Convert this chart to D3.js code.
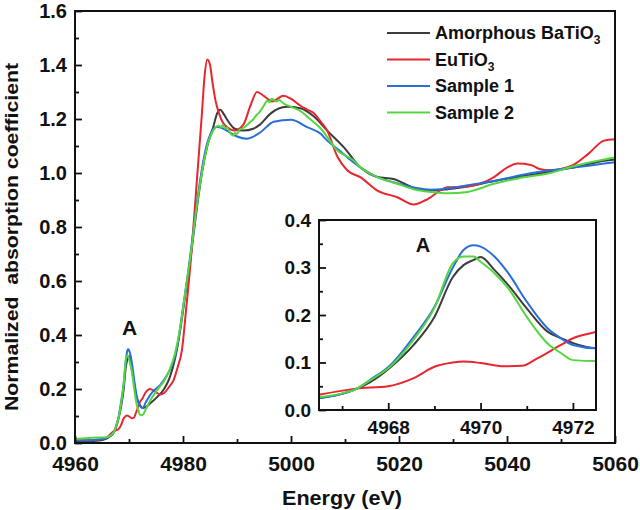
<!DOCTYPE html>
<html><head><meta charset="utf-8">
<script src="https://cdn.jsdelivr.net/npm/d3@7"></script>
<style>
body{margin:0;background:#fff}
text{font-family:"Liberation Sans",Arial,Helvetica,sans-serif;font-weight:bold;fill:#111}
</style>
</head><body>
<svg id="c" width="640" height="510"></svg>
<script>
// ---------------- data ----------------
const seriesNames = ["Amorphous BaTiO", "EuTiO", "Sample 1", "Sample 2"];
const seriesSubs = ["3", "3", "", ""];
const seriesColors = ["#3c3c3c", "#e8262e", "#2a6fd9", "#55d63f"];

const amorphous = [[4960,0.005],[4962,0.006],[4964,0.008],[4965,0.011],[4966,0.018],[4966.5,0.025],[4967,0.034],[4967.3,0.044],[4967.6,0.058],[4968.05,0.09],[4968.55,0.137],[4969,0.196],[4969.4,0.28],[4969.63,0.305],[4969.85,0.316],[4970,0.322],[4970.3,0.295],[4970.6,0.263],[4971,0.214],[4971.45,0.165],[4971.74,0.151],[4972,0.141],[4972.5,0.13],[4973,0.132],[4974,0.148],[4975.2,0.17],[4976.5,0.2],[4977.5,0.24],[4978.5,0.31],[4979.5,0.42],[4980.5,0.56],[4981.5,0.7],[4982.5,0.86],[4983.5,1.0],[4984.5,1.1],[4985.6,1.17],[4986.3,1.22],[4986.9,1.234],[4987.5,1.22],[4988.1,1.2],[4989.6,1.164],[4991.2,1.157],[4993,1.164],[4994.3,1.18],[4996.2,1.22],[4999.2,1.245],[5001.7,1.24],[5004.2,1.21],[5006.7,1.157],[5009.8,1.095],[5012.9,1.02],[5016,0.985],[5019,0.978],[5020.5,0.965],[5022.7,0.945],[5026,0.935],[5029,0.94],[5032.7,0.95],[5037.6,0.97],[5042,0.985],[5048,1.005],[5052.3,1.02],[5058,1.045],[5060,1.05]];

const eutio3 = [[4960,0.01],[4962,0.01],[4964,0.012],[4965,0.015],[4966,0.022],[4966.5,0.032],[4967.3,0.045],[4968,0.05],[4968.55,0.067],[4969,0.091],[4969.4,0.1],[4969.63,0.102],[4970,0.099],[4970.5,0.092],[4970.9,0.093],[4971.2,0.107],[4971.74,0.137],[4972,0.151],[4972.5,0.165],[4973,0.185],[4973.9,0.2],[4974.8,0.19],[4975.8,0.18],[4976.5,0.185],[4977.5,0.21],[4978.2,0.23],[4979,0.28],[4979.8,0.344],[4980.6,0.5],[4981.5,0.69],[4982.6,0.98],[4983.5,1.22],[4984,1.36],[4984.5,1.42],[4985,1.4],[4985.5,1.33],[4986,1.27],[4986.6,1.225],[4987.3,1.19],[4988.1,1.17],[4989.6,1.157],[4991.2,1.18],[4992.5,1.25],[4993.7,1.3],[4995,1.285],[4996.5,1.265],[4998.6,1.286],[5000,1.275],[5001.7,1.25],[5003,1.235],[5004.2,1.222],[5005.5,1.19],[5006.7,1.157],[5008.6,1.06],[5010.4,1.01],[5012.9,0.984],[5016,0.935],[5019.7,0.91],[5022.7,0.883],[5025,0.9],[5029,0.947],[5032.7,0.95],[5035,0.96],[5037.6,0.985],[5040,1.02],[5042,1.035],[5044.4,1.03],[5046,1.015],[5048,1.01],[5050,1.015],[5052.3,1.03],[5055,1.07],[5058,1.12],[5060,1.125]];

const sample1 = [[4960,0.01],[4962,0.01],[4964,0.012],[4965,0.015],[4966,0.02],[4966.5,0.025],[4967,0.034],[4967.3,0.044],[4967.6,0.063],[4968.05,0.095],[4968.55,0.154],[4969,0.217],[4969.4,0.3],[4969.63,0.337],[4969.85,0.347],[4970,0.344],[4970.3,0.323],[4970.6,0.288],[4971,0.228],[4971.45,0.172],[4971.74,0.151],[4972,0.137],[4972.5,0.13],[4973.2,0.155],[4974.4,0.19],[4975.8,0.215],[4977,0.25],[4977.8,0.28],[4978.8,0.344],[4980,0.5],[4981,0.64],[4982,0.8],[4983,0.95],[4984,1.07],[4985,1.14],[4986.2,1.17],[4987,1.168],[4988.1,1.157],[4990,1.135],[4991.8,1.127],[4994.3,1.15],[4996.8,1.19],[5000,1.197],[5003,1.17],[5005.5,1.145],[5006.7,1.12],[5009.2,1.08],[5010.4,1.058],[5012.9,1.02],[5016,0.985],[5020,0.96],[5023,0.945],[5026,0.938],[5030,0.945],[5032.7,0.955],[5037.6,0.97],[5042,0.99],[5048,1.01],[5052.3,1.02],[5058,1.035],[5060,1.04]];

const sample2 = [[4960,0.015],[4962,0.018],[4964,0.02],[4965,0.02],[4966,0.022],[4966.5,0.027],[4967,0.035],[4967.3,0.044],[4967.6,0.062],[4968.05,0.092],[4968.55,0.148],[4969,0.215],[4969.4,0.309],[4969.63,0.323],[4969.85,0.323],[4970,0.312],[4970.3,0.288],[4970.6,0.256],[4971,0.196],[4971.45,0.14],[4971.74,0.12],[4972,0.105],[4972.5,0.103],[4973,0.12],[4974,0.16],[4975.2,0.196],[4976.5,0.23],[4977.5,0.27],[4978.5,0.33],[4979.5,0.43],[4980.5,0.57],[4981.5,0.71],[4982.5,0.87],[4983.5,1.0],[4984.5,1.1],[4985.6,1.157],[4986.6,1.175],[4987,1.17],[4987.4,1.178],[4987.8,1.165],[4988.2,1.168],[4988.6,1.152],[4989,1.142],[4989.3,1.138],[4989.6,1.148],[4990,1.145],[4990.5,1.16],[4991,1.165],[4991.5,1.172],[4992,1.18],[4992.5,1.19],[4993,1.198],[4993.5,1.212],[4994,1.222],[4994.5,1.235],[4995,1.25],[4995.6,1.268],[4996,1.262],[4996.4,1.275],[4996.8,1.272],[4997.3,1.265],[4997.8,1.27],[4998.6,1.258],[5000,1.245],[5001.7,1.23],[5003.5,1.2],[5005.5,1.165],[5008.6,1.083],[5011.6,1.046],[5012.9,1.02],[5016,0.985],[5019.7,0.96],[5022.7,0.94],[5025.9,0.93],[5029,0.925],[5032.7,0.93],[5037.6,0.96],[5042,0.98],[5048,1.0],[5052.3,1.025],[5058,1.05],[5060,1.057]];

const mainXTicks = [4960, 4980, 5000, 5020, 5040, 5060];
const mainYTicks = [0, 0.2, 0.4, 0.6, 0.8, 1.0, 1.2, 1.4, 1.6];
const insetXTicks = [4968, 4970, 4972];
const insetYTicks = [0, 0.1, 0.2, 0.3, 0.4];
const xLabel = "Energy (eV)";
const yLabel = "Normalized\u00a0\u00a0absorption coefficient";
const peakLabel = "A";

// ---------------- drawing ----------------
const allSeries = [amorphous, eutio3, sample1, sample2];
const svg = d3.select("#c");

const M = {l: 75, r: 615, t: 11, b: 443};
const x = d3.scaleLinear().domain([4960, 5060]).range([M.l, M.r]);
const y = d3.scaleLinear().domain([0, 1.6]).range([M.b, M.t]);

const I = {l: 319, r: 596, t: 220, b: 410};
const xi = d3.scaleLinear().domain([4966.5, 4972.5]).range([I.l, I.r]);
const yi = d3.scaleLinear().domain([0, 0.4]).range([I.b, I.t]);

const defs = svg.append("defs");
defs.append("clipPath").attr("id", "clipMain").append("rect")
  .attr("x", M.l).attr("y", M.t).attr("width", M.r - M.l).attr("height", M.b - M.t);
defs.append("clipPath").attr("id", "clipInset").append("rect")
  .attr("x", I.l).attr("y", I.t).attr("width", I.r - I.l).attr("height", I.b - I.t);

function drawAxes(g, xs, ys, xt, yt, xMinor, yMinor, xfs, yfs, xpad) {
  const ax = g.append("g").attr("transform", `translate(0,${ys.range()[0]})`)
    .call(d3.axisBottom(xs).tickValues(xt).tickSize(-7).tickPadding(xpad).tickFormat(d3.format("d")));
  const axm = g.append("g").attr("transform", `translate(0,${ys.range()[0]})`)
    .call(d3.axisBottom(xs).tickValues(xMinor).tickSize(-4).tickFormat(""));
  const ay = g.append("g").attr("transform", `translate(${xs.range()[0]},0)`)
    .call(d3.axisLeft(ys).tickValues(yt).tickSize(-7).tickPadding(8).tickFormat(d3.format(".1f")));
  const aym = g.append("g").attr("transform", `translate(${xs.range()[0]},0)`)
    .call(d3.axisLeft(ys).tickValues(yMinor).tickSize(-4).tickFormat(""));
  [ax, axm, ay, aym].forEach(a => {
    a.select(".domain").remove();
    a.selectAll("line").attr("stroke", "#111").attr("stroke-width", 1.8);
    a.selectAll("text").attr("font-weight", "bold")
      .attr("font-family", '"Liberation Sans",Arial,sans-serif').attr("fill", "#111");
  });
  ax.selectAll("text").attr("font-size", xfs).attr("dy", "0.71em");
  ay.selectAll("text").attr("font-size", yfs);
}

function drawLines(g, xs, ys, clip) {
  const line = d3.line().x(d => xs(d[0])).y(d => ys(d[1])).curve(d3.curveMonotoneX);
  const lg = g.append("g").attr("clip-path", `url(#${clip})`);
  allSeries.forEach((s, i) => {
    lg.append("path").datum(s).attr("d", line)
      .attr("fill", "none").attr("stroke", seriesColors[i]).attr("stroke-width", 2)
      .attr("stroke-linejoin", "round");
  });
}

// main plot
const gMain = svg.append("g");
drawLines(gMain, x, y, "clipMain");
drawAxes(gMain, x, y, mainXTicks, mainYTicks,
  [4970, 4990, 5010, 5030, 5050], [0.1, 0.3, 0.5, 0.7, 0.9, 1.1, 1.3, 1.5], 21, 20, 13);
gMain.append("rect").attr("x", M.l).attr("y", M.t).attr("width", M.r - M.l).attr("height", M.b - M.t)
  .attr("fill", "none").attr("stroke", "#111").attr("stroke-width", 2);

// axis labels
svg.append("text").attr("x", (M.l + M.r) / 2 - 3).attr("y", 505).attr("text-anchor", "middle")
  .attr("font-size", 21).attr("textLength", 120).attr("lengthAdjust", "spacingAndGlyphs").text(xLabel);
svg.append("text").attr("transform", `translate(18,${(M.t + M.b) / 2 + 10}) rotate(-90)`)
  .attr("text-anchor", "middle").attr("font-size", 18)
  .attr("textLength", 348).attr("lengthAdjust", "spacingAndGlyphs").text(yLabel);

// peak A label on main
svg.append("text").attr("x", x(4970.1)).attr("y", 335).attr("text-anchor", "middle")
  .attr("font-size", 21).text(peakLabel);

// legend
const leg = svg.append("g");
seriesNames.forEach((n, i) => {
  const yy = 33 + i * 26.5;
  leg.append("line").attr("x1", 387).attr("x2", 430).attr("y1", yy).attr("y2", yy)
    .attr("stroke", seriesColors[i]).attr("stroke-width", 2);
  const t = leg.append("text").attr("x", 435).attr("y", yy + 6).attr("font-size", 18);
  t.append("tspan").text(n);
  if (seriesSubs[i]) t.append("tspan").attr("font-size", 12).attr("dy", 5).text(seriesSubs[i]);
});

// inset
const gIn = svg.append("g");
gIn.append("rect").attr("x", I.l).attr("y", I.t).attr("width", I.r - I.l).attr("height", I.b - I.t)
  .attr("fill", "#fff");
drawLines(gIn, xi, yi, "clipInset");
drawAxes(gIn, xi, yi, insetXTicks, insetYTicks,
  [4967, 4969, 4971], [0.05, 0.15, 0.25, 0.35], 19, 19, 11);
gIn.append("rect").attr("x", I.l).attr("y", I.t).attr("width", I.r - I.l).attr("height", I.b - I.t)
  .attr("fill", "none").attr("stroke", "#111").attr("stroke-width", 2);
gIn.append("text").attr("x", xi(4968.75)).attr("y", 252).attr("text-anchor", "middle")
  .attr("font-size", 20).text(peakLabel);
</script>
</body></html>
